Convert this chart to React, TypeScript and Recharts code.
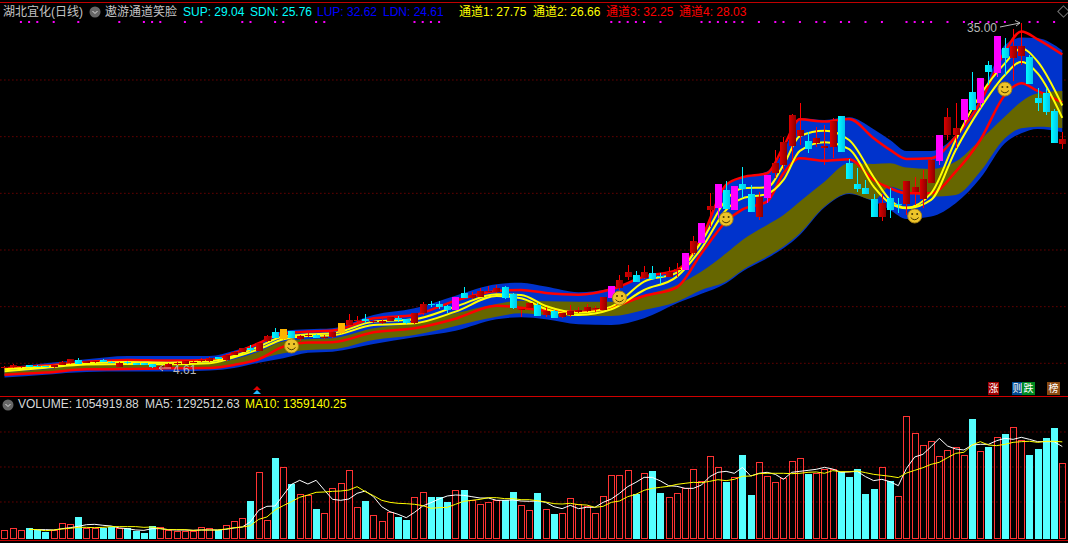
import { Area, Bar, CartesianGrid, ComposedChart, Line, XAxis, YAxis } from 'recharts';

// Daily candles, one value per trading day
const opens = [
  4.62, 4.65, 4.65, 4.83, 4.8, 4.77, 4.68, 4.86, 5.0, 5.3,
  5.06, 5.12, 5.3, 5.12, 4.68, 5.12, 5.03, 5.03, 4.95, 4.61,
  4.68, 4.92, 4.97, 5.09, 5.21, 5.21, 5.53, 5.3, 5.74, 6.03,
  6.33, 6.12, 6.97, 7.77, 7.12, 7.86, 7.18, 7.41, 7.5, 7.27,
  7.33, 7.65, 8.38, 8.71, 8.88, 8.62, 8.53, 8.77, 8.97, 8.88,
  8.53, 9.41, 10.27, 10.24, 10.03, 9.71, 11.21, 10.74, 10.88, 11.27,
  11.3, 11.71, 11.12, 9.71, 9.85, 10.12, 9.27, 9.59, 9.06, 9.24,
  9.5, 9.59, 9.77, 9.71, 10.8, 11.62, 12.59, 12.8, 12.53, 12.97,
  12.74, 12.65, 13.24, 13.24, 14.71, 15.65, 18.53, 18.74, 20.3, 18.53,
  20.83, 19.94, 17.89, 19.62, 21.83, 22.5, 24.18, 25.06, 24.62, 24.47,
  24.03, 24.12, 26.82, 22.68, 20.83, 20.47, 19.5, 17.92, 19.6, 19.06,
  19.06, 20.09, 19.5, 20.92, 22.86, 25.15, 25.15, 26.47, 28.94, 27.97,
  31.32, 30.62, 32.82, 31.94, 32.1, 32.03, 28.41, 28.85, 27.26, 24.36,
];
const closes = [
  4.68, 4.83, 4.74, 4.71, 4.68, 4.71, 4.83, 5.15, 5.36, 4.97,
  5.18, 5.24, 5.12, 5.03, 5.03, 5.0, 4.89, 4.89, 4.65, 4.77,
  4.95, 5.06, 5.21, 5.15, 5.3, 5.45, 5.39, 5.74, 6.03, 6.36,
  6.18, 6.8, 7.41, 7.27, 8.03, 7.27, 7.41, 7.5, 7.27, 7.35,
  7.77, 8.56, 8.83, 8.83, 8.74, 8.74, 8.77, 9.06, 8.85, 8.53,
  9.41, 10.24, 10.21, 10.0, 9.71, 10.83, 10.77, 11.03, 11.38, 11.38,
  11.68, 10.74, 9.85, 9.8, 10.3, 9.18, 9.65, 8.97, 9.41, 9.59,
  9.71, 9.97, 9.85, 10.83, 11.82, 12.35, 13.03, 12.21, 13.03, 12.44,
  12.65, 13.06, 13.35, 14.71, 15.8, 17.36, 18.89, 20.83, 18.62, 20.65,
  20.36, 18.38, 19.65, 21.62, 22.65, 24.53, 26.91, 25.59, 23.88, 24.91,
  24.21, 26.38, 23.65, 21.27, 20.36, 19.97, 17.91, 19.15, 18.54, 19.06,
  21.09, 20.56, 21.27, 22.94, 25.15, 26.73, 25.77, 28.33, 27.35, 30.18,
  30.7, 33.88, 31.94, 33.0, 33.0, 29.65, 27.97, 27.18, 24.44, 24.8,
];
const highs = [
  4.74, 4.95, 4.8, 4.86, 4.83, 4.8, 4.89, 5.18, 5.42, 5.47,
  5.21, 5.3, 5.36, 5.18, 5.09, 5.21, 5.06, 5.06, 4.97, 4.8,
  5.0, 5.12, 5.27, 5.21, 5.47, 5.59, 5.59, 5.8, 6.06, 6.39,
  6.62, 6.89, 7.47, 8.12, 8.03, 7.89, 7.5, 7.65, 7.56, 7.5,
  7.83, 8.56, 9.35, 9.18, 9.35, 8.83, 8.88, 9.12, 9.21, 8.94,
  9.47, 10.44, 10.53, 10.5, 10.15, 10.83, 11.74, 11.27, 11.62, 11.82,
  11.91, 11.82, 11.18, 10.0, 10.35, 10.35, 10.0, 9.71, 9.47, 10.12,
  9.94, 10.24, 10.06, 10.88, 11.82, 12.8, 13.68, 13.15, 13.59, 13.59,
  12.94, 13.47, 13.88, 14.71, 16.24, 17.36, 20.0, 20.83, 21.1, 20.65,
  22.3, 20.74, 20.15, 21.62, 23.83, 25.0, 26.97, 27.94, 25.38, 25.82,
  26.03, 26.62, 26.82, 23.03, 22.21, 21.18, 19.94, 19.94, 20.45, 19.62,
  21.09, 21.42, 22.06, 23.24, 25.15, 27.53, 27.97, 28.33, 30.7, 30.18,
  31.68, 33.88, 33.71, 34.5, 35.0, 32.2, 29.3, 29.3, 27.44, 25.4,
];
const lows = [
  4.62, 4.62, 4.62, 4.65, 4.65, 4.68, 4.62, 4.83, 4.95, 4.95,
  5.0, 5.06, 5.09, 5.0, 4.65, 4.95, 4.86, 4.86, 4.62, 4.61,
  4.65, 4.89, 4.95, 5.0, 5.12, 5.15, 5.36, 5.24, 5.71, 6.0,
  6.0, 6.09, 6.89, 7.24, 7.09, 7.24, 6.94, 7.3, 7.24, 7.12,
  7.27, 7.62, 8.35, 8.53, 8.53, 8.53, 8.47, 8.71, 8.65, 8.5,
  8.5, 9.27, 9.94, 9.8, 9.41, 9.71, 10.74, 10.68, 10.82, 11.18,
  11.24, 10.65, 9.77, 9.06, 9.8, 9.18, 9.06, 8.97, 9.03, 9.12,
  9.41, 9.53, 9.53, 9.68, 10.8, 11.47, 12.35, 12.18, 12.44, 12.35,
  12.0, 12.59, 12.59, 13.24, 14.6, 15.65, 17.06, 17.8, 18.62, 18.53,
  19.56, 18.38, 17.65, 19.12, 21.32, 22.06, 22.94, 24.27, 23.53, 24.06,
  22.5, 23.09, 23.65, 21.27, 20.15, 19.94, 17.91, 17.6, 17.86, 18.3,
  18.1, 18.97, 18.74, 20.89, 22.5, 24.71, 23.97, 26.03, 27.35, 27.5,
  29.56, 30.3, 30.44, 29.9, 31.32, 29.65, 27.27, 26.9, 24.44, 23.9,
];
const magentaDays = [55, 74, 83, 85, 87, 89, 93, 114, 117, 119, 121];
const orangeDays = [34, 41];

// Days that carry a magenta signal dot along the top
const signalDays = [
  2, 3, 4, 6, 9, 14, 17, 18, 19, 22, 24, 29, 30, 33, 34, 38, 39, 50, 51, 52, 53,
  74, 75, 76, 77, 78, 80, 85, 86, 87, 88, 89, 90, 92, 94, 95, 97, 99, 100, 102, 103,
  105, 107, 110, 111, 112, 113, 115, 117, 118, 119, 120, 121, 122, 125, 126, 128,
];
const signalLevel = 35.12;
const smileDays = [35, 75, 88, 111, 122];
const smilePrices = [6.53, 10.76, 17.73, 18.0, 29.2];

// Channel readings, taken at these days only
const bandDays = [
  0, 5, 10, 15, 20, 25, 28, 31, 34, 37, 40, 45, 50, 55, 60, 63, 66, 70, 74, 78,
  82, 85, 88, 90, 93, 95, 97, 100, 103, 106, 108, 110, 113, 116, 119, 122, 124, 126, 129,
];
const lup = [
  4.62, 5.0, 5.36, 5.65, 5.65, 5.65, 6.12, 6.77, 7.86, 8.0, 8.09, 9.27, 9.85, 10.97, 11.97, 12.12, 11.77, 11.27, 11.62, 12.59,
  13.24, 16.18, 20.74, 21.42, 21.92, 23.68, 26.62, 26.47, 26.71, 25.65, 24.71, 23.74, 23.74, 25.15, 28.38, 33.09, 33.74, 33.68, 32.62,
];
const ldn = [
  3.74, 4.0, 4.24, 4.27, 4.27, 4.36, 4.59, 5.06, 5.45, 5.94, 6.03, 6.71, 7.3, 7.88, 8.89, 9.06, 8.89, 8.44, 8.38, 8.97,
  10.3, 11.13, 12.06, 13.1, 14.27, 15.15, 16.33, 18.74, 19.94, 19.27, 18.54, 17.74, 17.95, 19.12, 21.33, 24.42, 25.3, 25.68, 25.4,
];
const sup = [
  4.24, 4.47, 4.89, 4.89, 4.89, 5.0, 5.36, 6.03, 6.92, 7.12, 7.21, 8.09, 8.53, 9.41, 10.24, 10.53, 10.47, 10.44, 10.44, 11.03,
  11.91, 13.1, 14.71, 15.89, 17.21, 18.09, 19.27, 21.03, 22.65, 22.59, 22.65, 22.27, 22.15, 22.8, 24.71, 26.77, 28.09, 28.82, 29.04,
];
const sdn = [
  3.95, 4.18, 4.5, 4.56, 4.56, 4.59, 4.83, 5.36, 5.89, 6.18, 6.24, 7.06, 7.5, 8.3, 9.12, 9.41, 9.27, 9.18, 9.18, 9.71,
  10.44, 11.48, 12.21, 13.24, 14.42, 15.3, 16.48, 18.83, 20.0, 19.42, 20.59, 20.15, 19.71, 19.86, 21.92, 24.86, 25.74, 25.88, 25.76,
];
const channel1 = [
  4.47, 4.71, 5.0, 5.12, 5.06, 5.18, 5.65, 6.47, 7.36, 7.56, 7.65, 8.68, 8.89, 10.0, 11.09, 11.03, 10.06, 9.47, 10.0, 12.21,
  13.0, 15.74, 19.42, 20.44, 20.53, 22.5, 25.06, 25.53, 24.71, 21.42, 19.42, 18.74, 20.0, 24.71, 28.68, 31.47, 32.79, 31.62, 27.75,
];
const channel2 = [
  4.3, 4.62, 4.89, 4.95, 4.92, 5.0, 5.53, 6.24, 7.12, 7.41, 7.47, 8.38, 8.53, 9.56, 10.94, 10.74, 9.8, 9.27, 9.77, 11.47,
  12.65, 15.15, 18.53, 19.56, 19.95, 21.18, 23.74, 24.5, 23.89, 20.59, 19.12, 18.68, 19.42, 23.83, 27.5, 30.44, 31.62, 30.59, 26.66,
];
const channel3 = [
  4.56, 4.8, 5.12, 5.3, 5.24, 5.3, 5.89, 6.77, 7.65, 7.8, 7.89, 8.97, 9.27, 10.53, 11.38, 11.47, 11.21, 11.06, 11.53, 12.65,
  13.24, 16.04, 20.74, 21.42, 21.77, 24.12, 26.53, 26.33, 26.56, 24.86, 23.83, 23.04, 23.09, 25.0, 28.03, 32.5, 34.27, 33.59, 32.25,
];
const channel4 = [
  4.0, 4.18, 4.47, 4.5, 4.56, 4.59, 4.86, 5.36, 6.47, 6.83, 6.86, 7.74, 8.09, 8.94, 10.09, 9.91, 9.65, 9.56, 9.94, 10.94,
  11.71, 14.71, 17.5, 18.59, 19.27, 21.77, 23.09, 22.88, 23.0, 21.18, 20.45, 20.0, 20.0, 21.91, 24.71, 28.68, 29.71, 29.03, 28.03,
];

// Volume in thousands
const volumes = [
  95, 124, 95, 124, 105, 72, 100, 195, 181, 286,
  133, 133, 133, 148, 124, 124, 90, 57, 157, 138,
  100, 86, 81, 86, 138, 124, 100, 167, 224, 267,
  514, 924, 238, 1129, 995, 757, 610, 600, 400, 338,
  695, 767, 952, 424, 514, 310, 224, 352, 286, 243,
  567, 638, 571, 571, 500, 667, 671, 524, 467, 495,
  533, 524, 643, 452, 381, 629, 395, 329, 338, 552,
  467, 443, 338, 581, 881, 881, 952, 614, 910, 943,
  629, 567, 624, 700, 967, 795, 1152, 995, 786, 852,
  1171, 600, 1067, 871, 781, 848, 1081, 1124, 900, 914,
  971, 967, 933, 857, 967, 614, 686, 995, 800, 581,
  1724, 1481, 1310, 1367, 1152, 1238, 1281, 1167, 1686, 1224,
  1286, 1424, 1471, 1567, 1381, 1171, 1257, 1414, 1557, 1055,
];
const ma5 = [
  null, null, null, 110, 105, 105, 100, 119, 133, 152,
  176, 181, 167, 157, 129, 119, 100, 95, 119, 119,
  105, 100, 100, 95, 100, 100, 100, 110, 129, 143,
  219, 381, 438, 443, 600, 752, 810, 757, 810, 672,
  538, 524, 543, 624, 657, 576, 433, 362, 324, 276,
  352, 443, 490, 543, 586, 600, 595, 576, 557, 557,
  524, 524, 529, 514, 510, 514, 495, 433, 405, 452,
  405, 424, 424, 495, 543, 624, 719, 781, 852, 852,
  800, 733, 724, 695, 695, 743, 862, 924, 938, 910,
  995, 871, 910, 924, 895, 824, 924, 938, 952, 967,
  995, 971, 924, 929, 938, 862, 805, 824, 790, 733,
  981, 1143, 1181, 1290, 1410, 1300, 1257, 1243, 1314, 1324,
  1324, 1376, 1410, 1395, 1424, 1395, 1362, 1362, 1362, 1292.5,
];
const ma10 = [
  null, null, null, 110, 105, 90, 100, 114, 124, 138,
  138, 133, 138, 148, 148, 148, 148, 138, 143, 119,
  105, 105, 105, 95, 100, 100, 100, 114, 133, 143,
  162, 252, 286, 386, 448, 505, 567, 600, 638, 643,
  652, 657, 671, 719, 648, 590, 524, 495, 481, 476,
  467, 448, 410, 419, 424, 467, 510, 524, 538, 562,
  562, 548, 548, 533, 533, 519, 500, 476, 471, 481,
  462, 457, 424, 438, 495, 514, 576, 610, 667, 695,
  710, 724, 752, 767, 781, 776, 795, 819, 805, 824,
  867, 871, 905, 910, 910, 910, 905, 910, 924, 929,
  910, 948, 933, 933, 943, 919, 895, 881, 867, 848,
  914, 952, 990, 1038, 1067, 1133, 1195, 1210, 1314, 1362,
  1314, 1305, 1324, 1352, 1362, 1367, 1352, 1367, 1367, 1359.1,
];

const priceTicks = [5, 10, 15, 20, 25, 30];
const volumeTicks = [500, 1000, 1500];

const chartData = opens.map((open, day) => {
  const at = bandDays.indexOf(day);
  const smile = smileDays.indexOf(day);
  return {
    day,
    open,
    close: closes[day],
    high: highs[day],
    low: lows[day],
    outer: at >= 0 ? [ldn[at], lup[at]] : [null, null],
    inner: at >= 0 ? [sdn[at], sup[at]] : [null, null],
    channel1: at >= 0 ? channel1[at] : null,
    channel2: at >= 0 ? channel2[at] : null,
    channel3: at >= 0 ? channel3[at] : null,
    channel4: at >= 0 ? channel4[at] : null,
    signal: signalDays.includes(day) ? signalLevel : null,
    smile: smile >= 0 ? smilePrices[smile] : null,
    volume: volumes[day],
    ma5: ma5[day],
    ma10: ma10[day],
  };
});

const FONT = '"Liberation Sans", "Noto Sans CJK SC", sans-serif';
const VOLUME_FLOOR = -28.6;

function Candle(props: any) {
  const { x, y, width, height, payload } = props;
  const { open, close, high, low, day } = payload;
  const k = high > low ? height / (high - low) : 0;
  const top = y + (high - Math.max(open, close)) * k;
  const bodyHeight = Math.max(Math.abs(open - close) * k, 1);
  const cx = Math.round(x + width / 2 - 0.5) + 0.5;
  let fill = 'url(#candleUp)';
  let wick = '#ff0000';
  if (close <= open) {
    fill = 'url(#candleDown)';
    wick = '#00f0ff';
  }
  if (magentaDays.includes(day)) {
    fill = '#ff00ff';
    wick = '#ff00ff';
  }
  if (orangeDays.includes(day)) {
    fill = '#ffb400';
    wick = '#ffb400';
  }
  return (
    <g shapeRendering="crispEdges">
      <line x1={cx} x2={cx} y1={y} y2={y + Math.max(height, 1)} stroke={wick} />
      <rect x={cx - 3.5} y={top} width={7} height={bodyHeight} fill={fill} />
    </g>
  );
}

function VolumeBar(props: any) {
  const { x, y, width, height, payload } = props;
  const left = Math.round(x);
  if (payload.close < payload.open) {
    return <rect x={left} y={y} width={7} height={height} fill="#55ffff" shapeRendering="crispEdges" />;
  }
  return (
    <rect x={left + 0.5} y={y + 0.5} width={6} height={height - 1} fill="none" stroke="#ff3333" shapeRendering="crispEdges" />
  );
}

function SignalDot(props: any) {
  const { cx, cy, index } = props;
  if (cy == null) return <g key={index} />;
  return <rect key={index} x={cx - 1} y={cy - 1} width={2} height={2} fill="#ff00ff" />;
}

function Smile(props: any) {
  const { cx, cy, index } = props;
  if (cy == null) return <g key={index} />;
  return (
    <g key={index}>
      <circle cx={cx} cy={cy} r={7} fill="#eec42a" stroke="#a88410" />
      <circle cx={cx - 2.5} cy={cy - 2} r={1} fill="#4a3a00" />
      <circle cx={cx + 2.5} cy={cy - 2} r={1} fill="#4a3a00" />
      <path d={`M${cx - 4} ${cy + 1.5} Q${cx} ${cy + 6} ${cx + 4} ${cy + 1.5}`} fill="none" stroke="#4a3a00" />
    </g>
  );
}

function Note({ x, y, color, children }: any) {
  return (
    <span style={{ position: 'absolute', left: x, top: y, color, fontSize: 12, lineHeight: '14px', whiteSpace: 'nowrap' }}>
      {children}
    </span>
  );
}

function Badge({ x, width, bg, children }: any) {
  return (
    <span style={{ position: 'absolute', left: x, top: 382, width, height: 13, background: bg, color: '#fff', fontSize: 10, lineHeight: '13px', textAlign: 'center' }}>
      {children}
    </span>
  );
}

function Knob({ x, y }: any) {
  return (
    <svg style={{ position: 'absolute', left: x, top: y }} width={12} height={12}>
      <circle cx={6} cy={6} r={5.5} fill="#666" />
      <path d="M3.5 5 L6 7.5 L8.5 5" fill="none" stroke="#ddd" />
    </svg>
  );
}

export default function App() {
  return (
    <div style={{ position: 'absolute', left: 0, top: 0, width: 1068, height: 543, background: '#000', overflow: 'hidden', fontFamily: FONT }}>
      <div style={{ position: 'absolute', left: 0, top: 0 }}>
        <ComposedChart width={1068} height={396} data={chartData} margin={{ top: 8, right: 1.6, bottom: 0, left: 0.4 }} barCategoryGap={0}>
          <defs>
            <linearGradient id="candleUp" x1="0" x2="1" y1="0" y2="0">
              <stop offset="0%" stopColor="#dd0000" />
              <stop offset="100%" stopColor="#8a0000" />
            </linearGradient>
            <linearGradient id="candleDown" x1="0" x2="1" y1="0" y2="0">
              <stop offset="0%" stopColor="#00ffff" />
              <stop offset="100%" stopColor="#00c4ee" />
            </linearGradient>
          </defs>
          <CartesianGrid vertical={false} horizontalValues={priceTicks} stroke="#a00000" strokeDasharray="1 3" />
          <XAxis dataKey="day" hide />
          <YAxis hide domain={[2.117, 36.353]} allowDataOverflow />
          <Area dataKey="outer" type="monotone" connectNulls stroke="none" fill="#0033cc" fillOpacity={1} dot={false} activeDot={false} isAnimationActive={false} />
          <Area dataKey="inner" type="monotone" connectNulls stroke="none" fill="#666600" fillOpacity={1} dot={false} activeDot={false} isAnimationActive={false} />
          <Line dataKey="channel4" type="monotone" connectNulls stroke="#ff0000" strokeWidth={2.5} dot={false} activeDot={false} isAnimationActive={false} />
          <Line dataKey="channel3" type="monotone" connectNulls stroke="#ff0000" strokeWidth={2.5} dot={false} activeDot={false} isAnimationActive={false} />
          <Line dataKey="channel2" type="monotone" connectNulls stroke="#ffff00" strokeWidth={2} dot={false} activeDot={false} isAnimationActive={false} />
          <Line dataKey="channel1" type="monotone" connectNulls stroke="#ffff00" strokeWidth={2} dot={false} activeDot={false} isAnimationActive={false} />
          <Bar dataKey={(d: any) => [d.low, d.high]} barSize={7} shape={Candle} zIndex={450} isAnimationActive={false} />
          <Line dataKey="signal" stroke="none" dot={SignalDot} activeDot={false} zIndex={500} isAnimationActive={false} />
          <Line dataKey="smile" stroke="none" dot={Smile} activeDot={false} zIndex={500} isAnimationActive={false} />
        </ComposedChart>
      </div>
      <div style={{ position: 'absolute', left: 0, top: 396 }}>
        <ComposedChart width={1068} height={144} data={chartData} margin={{ top: 2, right: 1.6, bottom: 1, left: 0.4 }} barCategoryGap={0}>
          <CartesianGrid vertical={false} horizontalValues={volumeTicks} stroke="#a00000" strokeDasharray="1 3" />
          <XAxis dataKey="day" hide />
          <YAxis hide domain={[VOLUME_FLOOR, 1985.7]} allowDataOverflow />
          <Bar dataKey={(d: any) => [VOLUME_FLOOR, d.volume]} barSize={7} shape={VolumeBar} isAnimationActive={false} />
          <Line dataKey="ma5" stroke="#ffffff" strokeWidth={1} dot={false} activeDot={false} isAnimationActive={false} />
          <Line dataKey="ma10" stroke="#ffff00" strokeWidth={1} dot={false} activeDot={false} isAnimationActive={false} />
        </ComposedChart>
      </div>

      {/* frame lines */}
      <div style={{ position: 'absolute', left: 0, top: 2, width: 1068, height: 1, background: '#c00000' }} />
      <div style={{ position: 'absolute', left: 0, top: 396, width: 1068, height: 1, background: '#d00000' }} />
      <div style={{ position: 'absolute', left: 0, top: 540, width: 1068, height: 1, background: '#c00000' }} />

      {/* price panel legend */}
      <Note x={3} y={5} color="#c4c4c4">湖北宜化(日线)</Note>
      <Knob x={89} y={6} />
      <Note x={105} y={5} color="#c4c4c4">遨游通道笑脸</Note>
      <Note x={183} y={5} color="#00ffff">SUP: 29.04</Note>
      <Note x={250} y={5} color="#00ffff">SDN: 25.76</Note>
      <Note x={317} y={5} color="#0000ff">LUP: 32.62</Note>
      <Note x={383} y={5} color="#0000ff">LDN: 24.61</Note>
      <Note x={459} y={5} color="#ffff00">通道1: 27.75</Note>
      <Note x={533} y={5} color="#ffff00">通道2: 26.66</Note>
      <Note x={606} y={5} color="#ff0000">通道3: 32.25</Note>
      <Note x={679} y={5} color="#ff0000">通道4: 28.03</Note>
      <div style={{ position: 'absolute', left: 1059, top: 7, width: 7, height: 7, border: '1px solid #777', transform: 'rotate(45deg)' }} />

      {/* extreme labels and markers */}
      <Note x={967} y={21} color="#b8b8b8">35.00</Note>
      <Note x={173} y={363} color="#b8b8b8">4.61</Note>
      <svg style={{ position: 'absolute', left: 0, top: 0 }} width={1068} height={543}>
        <path d="M1000 27 L1020 23 M1015 20.5 L1020 23 L1016 26" fill="none" stroke="#b8b8b8" />
        <path d="M171 368 L159 368 M163 365 L159 368 L163 371" fill="none" stroke="#b8b8b8" />
        <path d="M253 390 L257 386 L261 390 Z" fill="#e00000" />
        <path d="M253 394 L257 390 L261 394 Z" fill="#22bbff" />
      </svg>
      <Badge x={988} width={11} bg="#a00000">涨</Badge>
      <Badge x={1012} width={11} bg="#004a90">则</Badge>
      <Badge x={1022} width={13} bg="#008a20">跌</Badge>
      <Badge x={1047} width={13} bg="#8a4a10">榜</Badge>

      {/* volume panel legend */}
      <Knob x={2} y={399} />
      <Note x={18} y={397} color="#d8d8d8">VOLUME: 1054919.88</Note>
      <Note x={145} y={397} color="#d8d8d8">MA5: 1292512.63</Note>
      <Note x={245} y={397} color="#ffff00">MA10: 1359140.25</Note>
    </div>
  );
}
